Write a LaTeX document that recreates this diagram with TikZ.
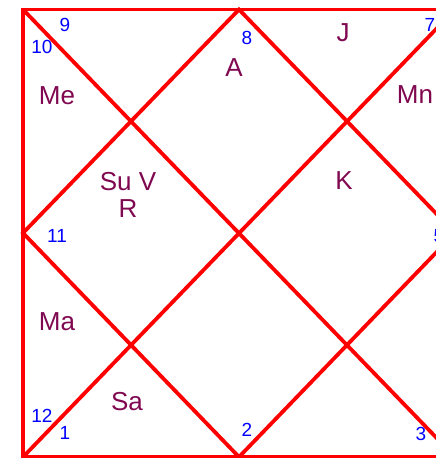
\documentclass[tikz,border=0pt]{standalone}
\usepackage{fontspec}
\setmainfont{Liberation Sans}
\definecolor{chartred}{RGB}{255,0,0}
\definecolor{numblue}{RGB}{0,0,255}
\definecolor{planet}{RGB}{128,8,80}
\tikzset{
  chartline/.style={draw=chartred, line width=3.8pt, line cap=round, line join=miter},
  housenum/.style={text=numblue, font=\fontsize{19}{22}\selectfont, inner sep=0pt},
  planettxt/.style={text=planet, font=\fontsize{26}{27}\selectfont, inner sep=0pt, align=center},
}
\begin{document}
\begin{tikzpicture}[x=1pt,y=-1pt]
\useasboundingbox (0,0) rectangle (436,458);
\clip (0,0) rectangle (436,458);
% corners and midpoints
\coordinate (TL) at (23,9.5);
\coordinate (TR) at (455,9.5);
\coordinate (BL) at (23,457);
\coordinate (BR) at (455,457);
\coordinate (TM) at (239,9.5);
\coordinate (BM) at (239,457);
\coordinate (LM) at (23,233);
\coordinate (RM) at (455,233);
% outer frame
\draw[chartline] (TL) -- (TR) -- (BR) -- (BL) -- cycle;
% diagonals
\draw[chartline] (TL) -- (BR);
\draw[chartline] (TR) -- (BL);
% inner diamond
\draw[chartline] (TM) -- (RM) -- (BM) -- (LM) -- cycle;
% house numbers
\node[housenum] (h9) at (65,25) {9};
\node[housenum] (h10) at (42,47) {10};
\node[housenum] (h8) at (247,38) {8};
\node[housenum] (h7) at (430,25) {7};
\node[housenum] (h11) at (57,236) {11};
\node[housenum] (h5) at (439,236) {5};
\node[housenum] (h12) at (42,416) {12};
\node[housenum] (h1) at (65,433) {1};
\node[housenum] (h2) at (247,430) {2};
\node[housenum] (h3) at (421,434) {3};
% planets
\node[planettxt] (pMe) at (57,96) {Me};
\node[planettxt] (pA) at (234,68) {A};
\node[planettxt] (pJ) at (343,33) {J};
\node[planettxt] (pMn) at (415,95) {Mn};
\node[planettxt] (pSuVR) at (128,195) {Su V\\R};
\node[planettxt] (pK) at (344,181) {K};
\node[planettxt] (pMa) at (57,322) {Ma};
\node[planettxt] (pSa) at (127,402) {Sa};
\end{tikzpicture}
\end{document}
